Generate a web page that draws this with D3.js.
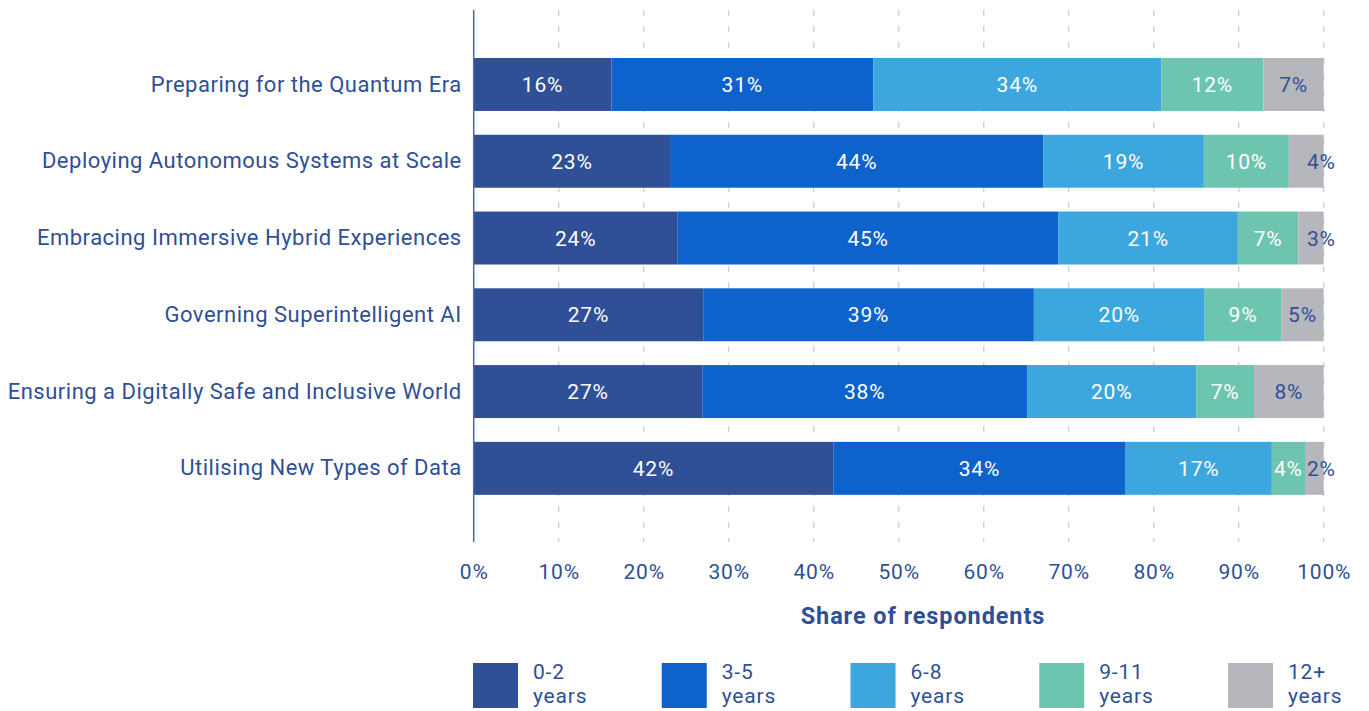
<!DOCTYPE html>
<html>
<head>
<meta charset="utf-8">
<script src="https://cdn.jsdelivr.net/npm/d3@7"></script>
<style>
  html, body { margin: 0; padding: 0; background: #ffffff; }
  svg { display: block; font-family: Roboto, "Noto Sans", sans-serif; }
</style>
</head>
<body>
<svg id="chart" width="1369" height="711"></svg>
<script>
// Horizon for each technology theme, share of respondents (%)
const categories = [
  "Preparing for the Quantum Era",
  "Deploying Autonomous Systems at Scale",
  "Embracing Immersive Hybrid Experiences",
  "Governing Superintelligent AI",
  "Ensuring a Digitally Safe and Inclusive World",
  "Utilising New Types of Data"
];
const seriesNames = ["0-2 years", "3-5 years", "6-8 years", "9-11 years", "12+ years"];
const years0to2   = [16.2, 23.1, 24.0, 27.0, 26.9, 42.3];
const years3to5   = [30.8, 43.9, 44.8, 38.9, 38.2, 34.4];
const years6to8   = [33.9, 18.9, 21.1, 20.1, 19.9, 17.2];
const years9to11  = [12.0, 10.0,  7.1,  9.0,  6.8,  3.9];
const years12plus = [ 7.1,  4.1,  3.0,  5.0,  8.2,  2.2];
const tickValues = [0, 10, 20, 30, 40, 50, 60, 70, 80, 90, 100];
const axisTitle = "Share of respondents";

const seriesColors = ["#2f4f96", "#0d62cc", "#3ca6de", "#6dc5b0", "#b6b7bc"];
const labelColors  = ["#ffffff", "#ffffff", "#ffffff", "#ffffff", "#2f4f96"];
const textColor = "#2f4f96";

const rows = categories.map((c, i) => ({
  category: c,
  "0-2 years": years0to2[i],
  "3-5 years": years3to5[i],
  "6-8 years": years6to8[i],
  "9-11 years": years9to11[i],
  "12+ years": years12plus[i]
}));

const svg = d3.select("#chart");
const x = d3.scaleLinear().domain([0, 100]).range([473.7, 1323.7]);
const y = d3.scaleBand().domain(categories).range([46, 46 + 6 * 76.8])
  .paddingInner(0.31).paddingOuter(0.156);
const plotTop = 10, plotBottom = 542;

// dashed vertical gridlines
svg.append("g")
  .selectAll("line")
  .data(tickValues.filter(t => t > 0))
  .join("line")
  .attr("x1", d => x(d)).attr("x2", d => x(d))
  .attr("y1", plotTop).attr("y2", plotBottom)
  .attr("stroke", "#d4d4d6")
  .attr("stroke-width", 1.5)
  .attr("stroke-dasharray", "6,10");

// stacked bars
const stacked = d3.stack().keys(seriesNames)(rows);
const layers = svg.append("g")
  .selectAll("g")
  .data(stacked)
  .join("g")
  .attr("fill", (d, i) => seriesColors[i]);

layers.selectAll("rect")
  .data(d => d)
  .join("rect")
  .attr("x", d => x(d[0]))
  .attr("width", d => x(d[1]) - x(d[0]))
  .attr("y", d => y(d.data.category))
  .attr("height", y.bandwidth());

// value labels; narrow end segments get their label pushed past the bar end
const fmt = v => d3.format(".0f")(v) + "%";
const lastKey = seriesNames[seriesNames.length - 1];
const isNarrowEnd = (d, key) => key === lastKey && (x(d[1]) - x(d[0])) < 40;
svg.append("g")
  .selectAll("g")
  .data(stacked)
  .join("g")
  .attr("fill", (d, i) => labelColors[i])
  .each(function (layer) {
    d3.select(this).selectAll("text")
      .data(layer)
      .join("text")
      .attr("x", d => isNarrowEnd(d, layer.key) ? x(d[1]) + 12 : (x(d[0]) + x(d[1])) / 2)
      .attr("text-anchor", d => isNarrowEnd(d, layer.key) ? "end" : "middle")
      .attr("y", d => y(d.data.category) + y.bandwidth() / 2)
      .attr("dy", "0.36em")
      .attr("font-size", 21)
      .attr("letter-spacing", 0.8)
      .text(d => fmt(d[1] - d[0]));
  });

// category axis
const yAxis = svg.append("g")
  .attr("transform", `translate(${x(0)},0)`)
  .call(d3.axisLeft(y).tickSize(0).tickPadding(12));
yAxis.select(".domain").remove();
yAxis.selectAll("text")
  .attr("fill", textColor)
  .attr("font-size", 22)
  .attr("letter-spacing", 0.5)
  .attr("font-family", "Roboto, sans-serif");
svg.append("line")
  .attr("x1", x(0)).attr("x2", x(0))
  .attr("y1", plotTop).attr("y2", plotBottom)
  .attr("stroke", "#4d67aa")
  .attr("stroke-width", 1.5);

// value axis
const xAxis = svg.append("g")
  .attr("transform", `translate(0,${plotBottom})`)
  .call(d3.axisBottom(x).tickValues(tickValues).tickFormat(d => d + "%").tickSize(0).tickPadding(22));
xAxis.select(".domain").remove();
xAxis.selectAll("text")
  .attr("fill", textColor)
  .attr("font-size", 21)
  .attr("letter-spacing", 0.8)
  .attr("font-family", "Roboto, sans-serif");

svg.append("text")
  .attr("x", 923)
  .attr("y", 624)
  .attr("text-anchor", "middle")
  .attr("fill", textColor)
  .attr("font-size", 23.5)
  .attr("font-weight", "bold")
  .attr("letter-spacing", 0.9)
  .text(axisTitle);

// legend
const legendX = d3.scaleLinear().domain([0, seriesNames.length - 1]).range([473, 1228]);
const legend = svg.append("g")
  .selectAll("g")
  .data(seriesNames)
  .join("g")
  .attr("transform", (d, i) => `translate(${legendX(i)},663)`);
legend.append("rect")
  .attr("width", 45).attr("height", 45)
  .attr("fill", (d, i) => seriesColors[i]);
const legendText = legend.append("text")
  .attr("x", 60)
  .attr("fill", textColor)
  .attr("font-size", 21)
  .attr("letter-spacing", 0.8);
legendText.append("tspan").attr("x", 60).attr("y", 16).text(d => d.split(" ")[0]);
legendText.append("tspan").attr("x", 60).attr("y", 40).text(d => d.split(" ")[1]);
</script>
</body>
</html>
